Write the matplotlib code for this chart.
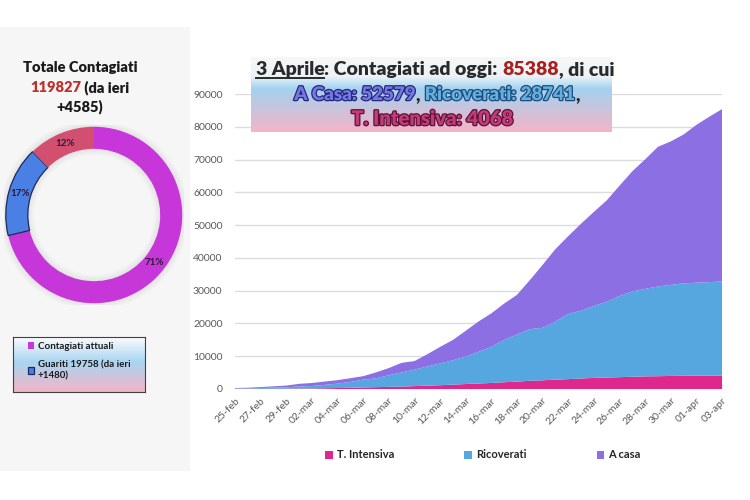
import numpy as np
import matplotlib
matplotlib.use('Agg')
import matplotlib.pyplot as plt
from matplotlib.patches import Rectangle
from matplotlib.lines import Line2D
from matplotlib.colors import LinearSegmentedColormap
import matplotlib.patheffects as pe

plt.rcParams['font.family'] = ['Lato', 'DejaVu Sans']

# ---------------- data ----------------
dates = ['25-feb', '26-feb', '27-feb', '28-feb', '29-feb',
         '01-mar', '02-mar', '03-mar', '04-mar', '05-mar', '06-mar', '07-mar', '08-mar', '09-mar', '10-mar',
         '11-mar', '12-mar', '13-mar', '14-mar', '15-mar', '16-mar', '17-mar', '18-mar', '19-mar', '20-mar',
         '21-mar', '22-mar', '23-mar', '24-mar', '25-mar', '26-mar', '27-mar', '28-mar', '29-mar', '30-mar',
         '31-mar', '01-apr', '02-apr', '03-apr']
t_intensiva = [35, 36, 56, 64, 105,
               140, 166, 229, 295, 351, 462, 567, 650, 733, 877,
               1028, 1153, 1328, 1518, 1672, 1851, 2060, 2257, 2498, 2655,
               2857, 3009, 3204, 3396, 3489, 3612, 3732, 3856, 3906, 3981,
               4023, 4035, 4053, 4068]
ricoverati = [114, 128, 248, 345, 401,
              639, 742, 1034, 1346, 1790, 2394, 2651, 3557, 4316, 5038,
              5838, 6650, 7426, 8372, 9663, 11025, 12894, 14363, 15757, 16020,
              17708, 19846, 20692, 21937, 23112, 24753, 26029, 26676, 27386, 27795,
              28192, 28403, 28540, 28741]
a_casa = [162, 221, 284, 412, 543,
          798, 927, 1000, 1065, 1155, 1060, 1843, 2180, 2936, 2599,
          3724, 5036, 6201, 7860, 9268, 10197, 11108, 12090, 14935, 19185,
          22116, 23783, 26522, 28697, 30920, 33648, 36653, 39533, 42588, 43752,
          45420, 48134, 50456, 52579]
series_labels = ['T. Intensiva', 'Ricoverati', 'A casa']
series_colors = ['#E0288C', '#56A7DF', '#8C6FE3']
y_ticks = [0, 10000, 20000, 30000, 40000, 50000, 60000, 70000, 80000, 90000]

donut_labels = ['Contagiati attuali', 'Guariti 19758 (da ieri\n+1480)', 'Deceduti']
donut_values = [85388, 19758, 14681]
donut_pct_labels = ['71%', '17%', '12%']
donut_colors = ['#C736D9', '#4A7FE3', '#D24F70']

W, H = 750, 500
fig = plt.figure(figsize=(7.5, 5), dpi=100)
fig.patch.set_facecolor('white')

def fx(px):
    return px / W

def fy(py):
    return 1 - py / H

# left grey panel
fig.add_artist(Rectangle((0, fy(471)), fx(190), fy(27) - fy(471), transform=fig.transFigure,
                         facecolor='#f6f6f6', edgecolor='none', zorder=0))

# ---------------- main area chart ----------------
ax = fig.add_axes([fx(235), fy(389), fx(722) - fx(235), (389 - 94) / H])
ax.set_facecolor('none')
x = np.arange(len(dates))
polys = ax.stackplot(x, t_intensiva, ricoverati, a_casa, colors=series_colors,
                     labels=series_labels, linewidth=0.6, edgecolor='none', zorder=2)
ax.set_xlim(0, len(dates) - 1)
ax.set_ylim(0, 90000)
ax.set_yticks(y_ticks)
ax.set_yticklabels([str(v) for v in y_ticks])
ax.yaxis.grid(True, color='#dcdcdc', lw=1)
ax.set_axisbelow(True)
for s in ax.spines.values():
    s.set_visible(False)
ax.tick_params(axis='y', length=0, pad=9, labelsize=7.5, labelcolor='#595959')
ax.set_xticks(x[::2])
ax.set_xticklabels(dates[::2], rotation=45, ha='right', va='top', rotation_mode='anchor')
ax.tick_params(axis='x', length=0, pad=5, labelsize=7.5, labelcolor='#595959')

leg = fig.legend(handles=polys, labels=series_labels, loc='center',
                 bbox_to_anchor=(fx(483), fy(455)), ncol=3, frameon=False,
                 fontsize=8, handlelength=0.7, handleheight=0.7, handletextpad=0.35,
                 columnspacing=6.3)
for t in leg.get_texts():
    t.set_color('#262626')
    t.set_fontweight('bold')

# ---------------- donut ----------------
dax = fig.add_axes([fx(4), fy(305), fx(180), 180 / H])
# soft shadow around the ring
for k in range(6):
    dax.add_patch(matplotlib.patches.Wedge((0, 0), 1.0 + 0.012 * (k + 1), 0, 360,
                                           width=0.25 + 0.024 * (k + 1),
                                           facecolor='#000000', alpha=0.012, edgecolor='none'))
wedges, _ = dax.pie(donut_values, colors=donut_colors, startangle=90, counterclock=False,
                    radius=1, wedgeprops=dict(width=0.25, edgecolor='none'))
wedges[1].set_edgecolor('#1b2a5c')
wedges[1].set_linewidth(0.9)
for w, lab in zip(wedges, donut_pct_labels):
    ang = np.deg2rad((w.theta1 + w.theta2) / 2)
    dax.text(0.875 * np.cos(ang), 0.875 * np.sin(ang), lab, ha='center', va='center',
             fontsize=7, fontweight='bold', color='#2b1a3a')
dax.set_xlim(-1.02, 1.02)
dax.set_ylim(-1.02, 1.02)

# left legend box with gradient
grad_cmap = LinearSegmentedColormap.from_list('g', [(0, '#fbfbfd'), (0.45, '#a8d5f1'), (1.0, '#f4b3c6')])
lax = fig.add_axes([fx(13), fy(392), fx(145) - fx(13), (392 - 337) / H])
lax.imshow(np.linspace(0, 1, 100).reshape(-1, 1), aspect='auto', cmap=grad_cmap, extent=(0, 1, 0, 1))
lax.set_xticks([]); lax.set_yticks([])
for s in lax.spines.values():
    s.set_color('#404040'); s.set_linewidth(0.8)
lleg = fig.legend(handles=wedges[:2], labels=donut_labels[:2], loc='upper left',
                  bbox_to_anchor=(fx(24), fy(338)), frameon=False, fontsize=7,
                  handlelength=0.6, handleheight=0.6, handletextpad=0.4, labelspacing=1.0,
                  borderaxespad=0)
for t in lleg.get_texts():
    t.set_fontweight('bold')
    t.set_color('#1a1a1a')

# ---------------- title box ----------------
tax = fig.add_axes([fx(251), fy(132), fx(612) - fx(251), (132 - 57) / H])
tax.imshow(np.linspace(0, 1, 100).reshape(-1, 1), aspect='auto',
           cmap=LinearSegmentedColormap.from_list('t', [(0, '#f6f7f9'), (0.25, '#eef3f7'), (0.42, '#a3d2f0'),
                                                        (1.0, '#f4b4c7')]),
           extent=(0, 1, 0, 1))
tax.axis('off')

renderer = fig.canvas.get_renderer()

def text_width(s, size, weight):
    t = fig.text(0, 0, s, fontsize=size, fontweight=weight)
    w = t.get_window_extent(renderer).width
    t.remove()
    return w

def multitext(pieces, cx, base_y, size, weight='bold'):
    full = ''.join(p[0] for p in pieces)
    total = text_width(full, size, weight)
    ref = text_width('l', size, weight)
    x0 = cx - total / 2
    prefix = ''
    out = []
    for s, color, effects in pieces:
        off = (text_width(prefix + 'l', size, weight) - ref) if prefix else 0
        t = fig.text(fx(x0 + off), fy(base_y), s, fontsize=size, fontweight=weight, color=color,
                     ha='left', va='baseline')
        if effects:
            t.set_path_effects(effects)
        out.append((t, x0 + off, text_width(s, size, weight)))
        prefix += s
    return out

dark = '#2a2a2a'
outline = lambda c: [pe.Stroke(linewidth=1.8, foreground=c), pe.Normal()]

# left title
multitext([('Totale Contagiati', '#1a1a1a', None)], 80, 72, 10.5, 'heavy')
multitext([('119827', '#C0302A', None), (' (da ieri', '#1a1a1a', None)], 80, 92, 10.5, 'heavy')
multitext([('+4585)', '#1a1a1a', None)], 80, 111, 10.5, 'heavy')

l1 = multitext([('3 Aprile', dark, None), (': Contagiati ad oggi: ', dark, None),
                ('85388', '#A8201E', None), (', di cui', dark, None)], 435, 75, 14, 'heavy')
t0, xs, wd = l1[0]
fig.add_artist(Line2D([fx(xs), fx(xs + wd)], [fy(78), fy(78)], transform=fig.transFigure,
                      color=dark, lw=1.4))
multitext([('A Casa: 52579', '#7478E4', outline('#252878')), (', ', dark, None),
           ('Ricoverati: 28741', '#62B0E2', outline('#1E4B78')), (',', dark, None)], 437, 100, 13.5, 'heavy')
multitext([('T. Intensiva: 4068', '#C03C7A', outline('#5E1236'))], 432, 125, 14.5, 'heavy')

fig.savefig('out.png', dpi=100, facecolor='white')
